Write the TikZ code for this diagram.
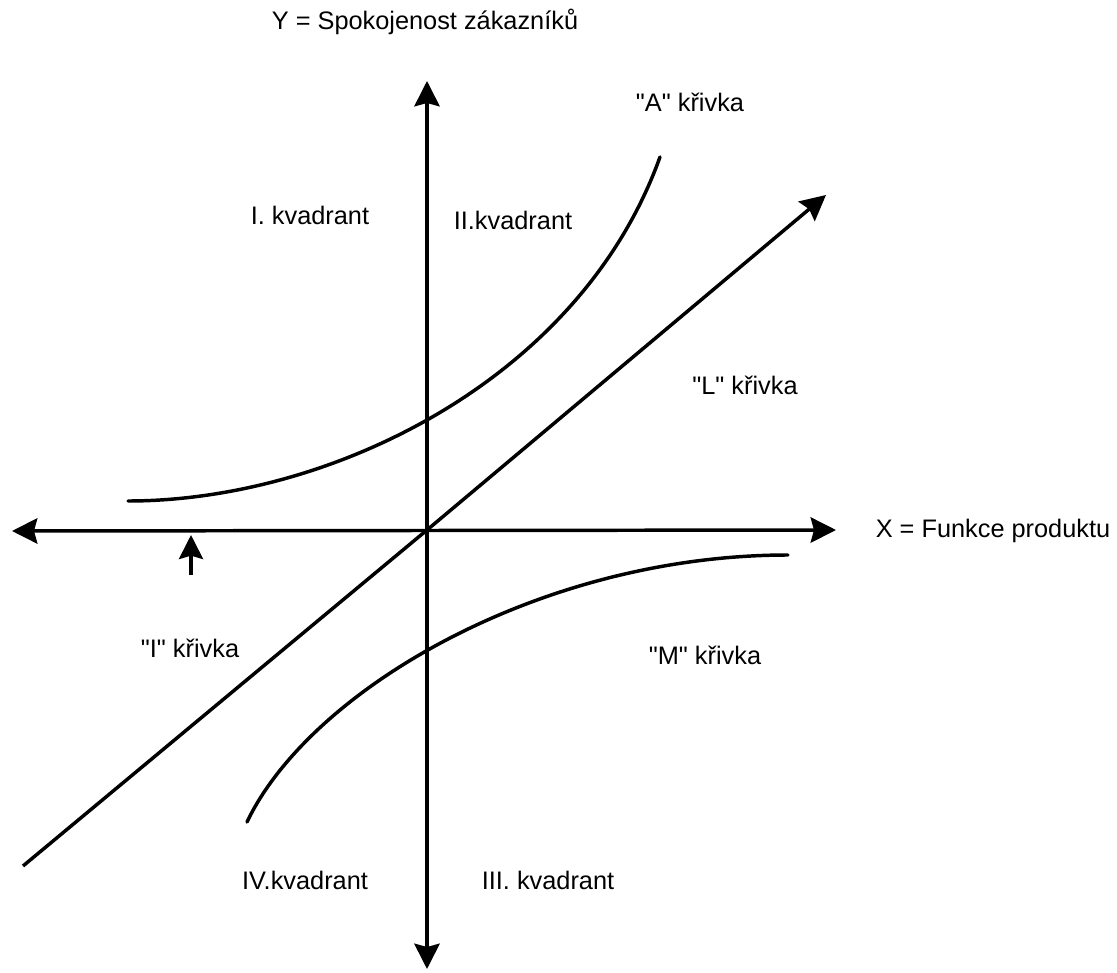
\documentclass[tikz,border=0pt]{standalone}
\usepackage{fontspec}
\setmainfont{Liberation Sans}
\usetikzlibrary{arrows.meta, positioning}

\begin{document}
\begin{tikzpicture}[
    x=0.75pt, y=-0.75pt,
    axis/.style={line width=2.6pt, {Stealth[length=19pt, width=19pt, inset=2.5pt]}-{Stealth[length=19pt, width=19pt, inset=2.5pt]}},
    curve/.style={line width=2.6pt, line cap=round},
    label/.style={font=\fontsize{19}{23}\selectfont, inner sep=0pt, anchor=center}
]
    \useasboundingbox (0,0) rectangle (1117,973);

    % Axis ends
    \coordinate (o) at (427,530);
    \coordinate (xl) at (12,531);
    \coordinate (xr) at (836,530);
    \coordinate (yt) at (427,81);
    \coordinate (yb) at (427,969);

    % Axes
    \draw[axis] (xl) -- (xr);
    \draw[axis] (yb) -- (yt);

    % "L" line through origin
    \coordinate (ls) at (23,866);
    \coordinate (le) at (826,195);
    \draw[line width=2.6pt, -{Stealth[length=19pt, width=19pt, inset=2.5pt]}] (ls) -- (o) -- (le);

    % "A" and "M" curves
    \coordinate (as) at (128,501);
    \coordinate (ae) at (660,157);
    \draw[curve] (as) .. controls (330,501) and (580,380) .. (ae);
    \coordinate (ms) at (247,822);
    \coordinate (me) at (788,555);
    \draw[curve] (ms) .. controls (310,690) and (540,555) .. (me);

    % Pointer to the "I" curve
    \coordinate (ps) at (191,575);
    \coordinate (pe) at (191,535);
    \draw[line width=2.6pt, -{Stealth[length=18pt, width=18pt, inset=2.5pt]}] (ps) -- (pe);

    % Labels
    \node[label] (ylab) at (425,22) {Y = Spokojenost zákazníků};
    \node[label] (xlab) at (993,531) {X = Funkce produktu};
    \node[label] (alab) at (690,102) {\textquotedbl A\textquotedbl{} křivka};
    \node[label] (llab) at (745,385) {\textquotedbl L\textquotedbl{} křivka};
    \node[label] (ilab) at (190,648) {\textquotedbl I\textquotedbl{} křivka};
    \node[label] (mlab) at (705,655) {\textquotedbl M\textquotedbl{} křivka};
    \node[label] (q1) at (310,215) {I. kvadrant};
    \node[label] (q2) at (513,220) {II.kvadrant};
    \node[label] (q3) at (548,880) {III. kvadrant};
    \node[label] (q4) at (305,880) {IV.kvadrant};

\end{tikzpicture}
\end{document}
